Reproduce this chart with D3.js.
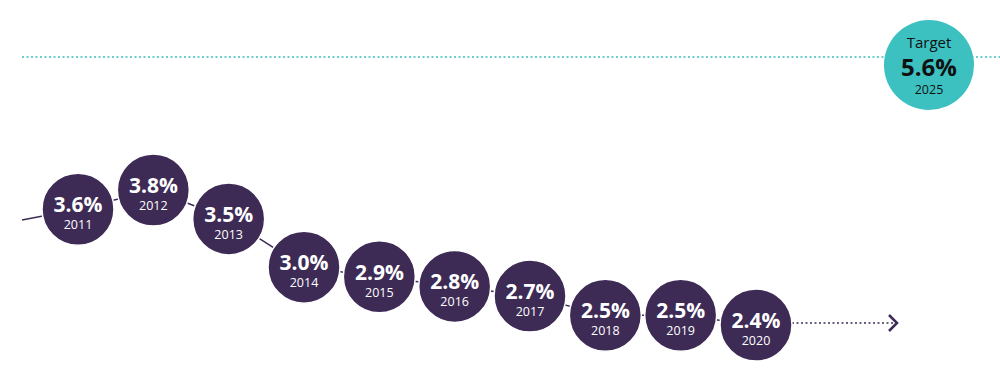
<!DOCTYPE html>
<html>
<head>
<meta charset="utf-8">
<script src="https://cdn.jsdelivr.net/npm/d3@7"></script>
<style>
  body { margin: 0; background: #fff; }
</style>
</head>
<body>
<div id="chart"></div>
<script>
// data
var years = [2011, 2012, 2013, 2014, 2015, 2016, 2017, 2018, 2019, 2020];
var values = [3.6, 3.8, 3.5, 3.0, 2.9, 2.8, 2.7, 2.5, 2.5, 2.4];
var leadIn = { year: 2010, value: 3.45 };
var target = { label: 'Target', value: 5.6, year: 2025 };

var width = 1000, height = 391;
var purple = '#3d2b56', teal = '#3cc0c0';

var svg = d3.select('#chart').append('svg')
    .attr('width', width)
    .attr('height', height)
    .style('font-family', '"Open Sans", sans-serif');

var x = d3.scaleLinear().domain([2011, 2020]).range([78, 756]);
var y = d3.scaleLinear().domain([2.4, 3.8]).range([325, 190]);

var r = 36;
var data = years.map(function(yr, i) { return { year: yr, value: values[i] }; });

// target dotted line
var targetY = 57;
svg.append('line')
    .attr('x1', 22).attr('x2', width)
    .attr('y1', targetY).attr('y2', targetY)
    .attr('stroke', teal)
    .attr('stroke-width', 1.5)
    .attr('stroke-dasharray', '2,2.5');

// lead in line from the left edge
var x0 = 22;
var t = (x0 - x(leadIn.year)) / (x(2011) - x(leadIn.year));
var yLead = y(leadIn.value) + t * (y(values[0]) - y(leadIn.value));
svg.append('line')
    .attr('x1', x0).attr('y1', yLead)
    .attr('x2', x(2011)).attr('y2', y(values[0]))
    .attr('stroke', purple).attr('stroke-width', 1.5);

// connecting line
svg.append('path')
    .datum(data)
    .attr('fill', 'none')
    .attr('stroke', purple)
    .attr('stroke-width', 1.5)
    .attr('d', d3.line().x(function(d) { return x(d.year); }).y(function(d) { return y(d.value); }));

// dotted arrow after last point
var last = data[data.length - 1];
var arrowEnd = 897;
svg.append('line')
    .attr('x1', x(last.year) + r).attr('x2', arrowEnd - 2)
    .attr('y1', y(last.value) - 2).attr('y2', y(last.value) - 2)
    .attr('stroke', purple)
    .attr('stroke-width', 1.3)
    .attr('stroke-dasharray', '2,2.5');
svg.append('path')
    .attr('d', 'M' + (arrowEnd - 8) + ',' + (y(last.value) - 10) +
               'L' + arrowEnd + ',' + (y(last.value) - 2) +
               'L' + (arrowEnd - 8) + ',' + (y(last.value) + 6))
    .attr('fill', 'none')
    .attr('stroke', purple)
    .attr('stroke-width', 2.5);

// bubbles
var g = svg.selectAll('.pt')
    .data(data)
    .enter().append('g')
    .attr('class', 'pt')
    .attr('transform', function(d) { return 'translate(' + x(d.year) + ',' + y(d.value) + ')'; });

g.append('circle')
    .attr('r', r)
    .attr('fill', purple)
    .attr('stroke', '#fff')
    .attr('stroke-width', 1.5);

g.append('text')
    .attr('text-anchor', 'middle')
    .attr('y', 3)
    .attr('fill', '#fff')
    .attr('font-size', '21px')
    .attr('font-weight', 'bold')
    .text(function(d) { return d.value.toFixed(1) + '%'; });

g.append('text')
    .attr('text-anchor', 'middle')
    .attr('y', 20)
    .attr('fill', '#fff')
    .attr('font-size', '12.5px')
    .text(function(d) { return d.year; });

// target bubble
var tg = svg.append('g')
    .attr('transform', 'translate(929,65)');
tg.append('circle')
    .attr('r', 45)
    .attr('fill', teal);
tg.append('text')
    .attr('text-anchor', 'middle')
    .attr('y', -17)
    .attr('fill', '#111')
    .attr('font-size', '15px')
    .text(target.label);
tg.append('text')
    .attr('text-anchor', 'middle')
    .attr('y', 11)
    .attr('fill', '#111')
    .attr('font-size', '24px')
    .attr('font-weight', 'bold')
    .text(target.value.toFixed(1) + '%');
tg.append('text')
    .attr('text-anchor', 'middle')
    .attr('y', 29)
    .attr('fill', '#111')
    .attr('font-size', '12.5px')
    .text(target.year);
</script>
</body>
</html>
